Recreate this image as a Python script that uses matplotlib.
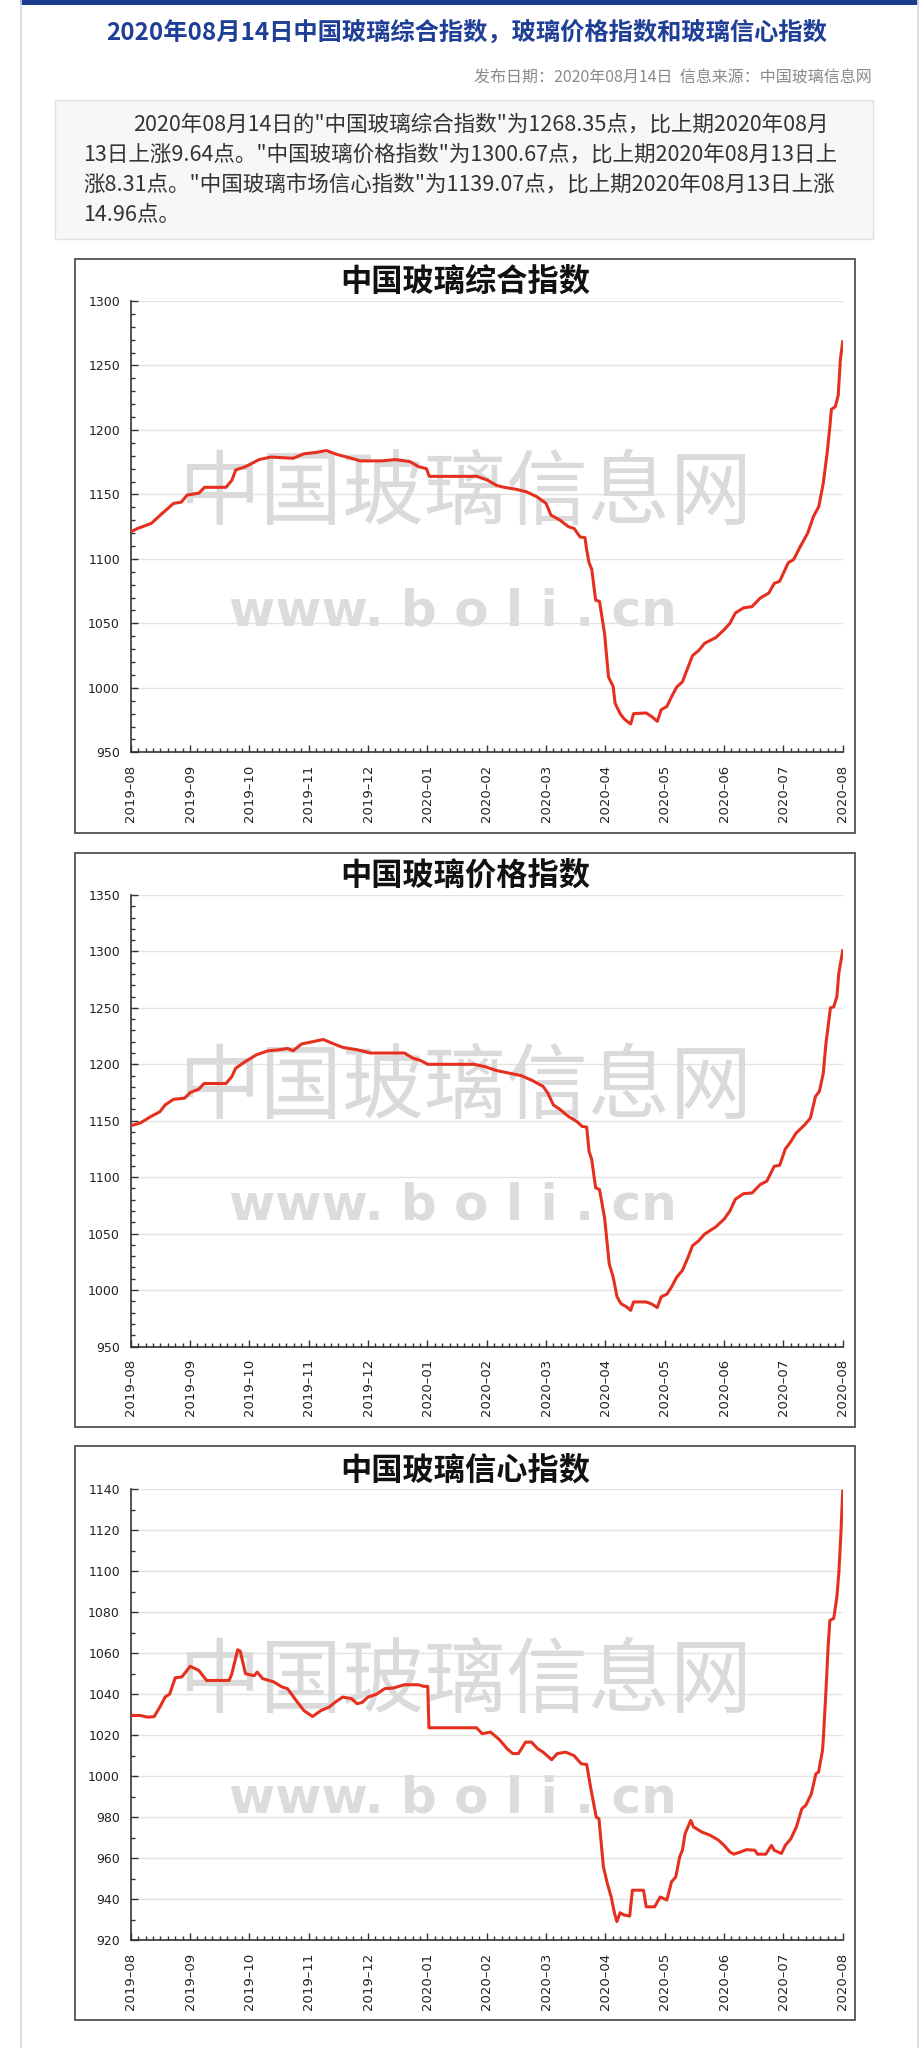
import numpy as np
import matplotlib.pyplot as plt
from matplotlib.patches import Rectangle
from matplotlib.ticker import FixedLocator, MultipleLocator

W, H = 920, 2048
CJK = ["Noto Sans CJK SC", "DejaVu Sans"]

# ── Page text ─────────────────────────────────────────────────────────────────
page_title = "2020年08月14日中国玻璃综合指数，玻璃价格指数和玻璃信心指数"
meta_line = "发布日期：2020年08月14日  信息来源：中国玻璃信息网"
summary_lines = [
    '2020年08月14日的"中国玻璃综合指数"为1268.35点，比上期2020年08月',
    '13日上涨9.64点。"中国玻璃价格指数"为1300.67点，比上期2020年08月13日上',
    '涨8.31点。"中国玻璃市场信心指数"为1139.07点，比上期2020年08月13日上涨',
    '14.96点。',
]

# ── Chart data (x = days after 2019-08-14) ───────────────────────────────────
month_labels = ["2019–08", "2019–09", "2019–10", "2019–11", "2019–12", "2020–01",
                "2020–02", "2020–03", "2020–04", "2020–05", "2020–06", "2020–07",
                "2020–08"]

chart_titles = ["中国玻璃综合指数", "中国玻璃价格指数", "中国玻璃信心指数"]

days_composite = [0, 3.4, 10.6, 16, 22, 26, 29, 35, 38, 49, 52, 54, 59, 66, 72, 83.5, 89, 95,
                  100.6, 106, 113.5, 118, 129, 136, 143.5, 148, 152, 153.5, 178, 183.5, 188,
                  192, 198, 203.5, 209, 213.5, 216, 220.7, 225, 228, 231, 233.5, 234.4, 235.6,
                  237, 239, 241, 243.6, 245.6, 248, 249, 251.6, 253.6, 255.6, 257, 258.5, 265,
                  268, 270.7, 272.7, 275.6, 278, 280.7, 283.6, 286.5, 288.8, 292, 295, 300.8,
                  305, 308, 310.8, 315, 319.4, 323.6, 328, 330.8, 333.6, 338, 340.8, 344, 348,
                  351, 353.7, 356, 358, 359.4, 360.2, 362.2, 363.7, 364.8, 366]
composite = [1121, 1123.5, 1127.5, 1135, 1143, 1144, 1149.5, 1151, 1155.5, 1155.5, 1161, 1169,
             1171.5, 1177, 1179, 1178, 1181.5, 1182.5, 1184, 1181, 1178, 1176, 1176, 1177,
             1175.5, 1171.5, 1170, 1164, 1164, 1161, 1157, 1155.5, 1154, 1152, 1148, 1143, 1134,
             1130, 1125, 1123.5, 1117, 1116.5, 1107, 1097, 1092, 1068, 1067, 1042, 1008.5, 1001,
             988, 980, 976, 973.5, 972, 980, 980.5, 977.5, 974, 983, 985.5, 993, 1000.7, 1004.6,
             1016, 1025, 1029, 1034.5, 1039, 1045, 1050, 1058, 1062, 1063, 1069.6, 1073.5, 1081,
             1082.6, 1097, 1099.5, 1109, 1120, 1133, 1140.5, 1158.6, 1182, 1202.7, 1216, 1218,
             1227, 1254.6, 1268.35]

days_price = [0, 4.9, 10.6, 15, 17.7, 22, 27.7, 30.6, 35, 37.7, 49, 52, 54, 59, 64.6, 70.6, 76,
              80.6, 83.5, 87.8, 93.5, 99, 103.5, 109, 116, 123.5, 140.7, 145, 149, 152.7, 176.4,
              182, 188, 195, 200.7, 206.4, 212, 214.4, 217.3, 220.7, 225, 229.3, 232, 234.4,
              235.6, 237, 239, 241, 243.6, 246, 248, 250, 252, 255, 257, 258.5, 265, 268, 270.7,
              272.7, 275.6, 278, 280.7, 283.6, 286.5, 288.8, 292, 295, 300.8, 305, 308, 310.8,
              315, 319.4, 323.6, 327, 330.8, 333.6, 336.5, 339.4, 342, 346.5, 349.4, 352, 354,
              356, 357.4, 358.5, 359.7, 361.4, 363, 364, 366]
price = [1145.6, 1148, 1154, 1158, 1164, 1169, 1170, 1175, 1178, 1183, 1183, 1189.2, 1196.6,
         1202.5, 1208.4, 1212, 1212.8, 1214, 1212, 1218, 1220, 1222, 1218.7, 1215, 1213, 1210,
         1210, 1205.5, 1203.4, 1200, 1200, 1198, 1194.5, 1192, 1190, 1185.7, 1180.4, 1174.5,
         1164, 1160, 1153.8, 1149.4, 1145, 1144.4, 1123, 1115.5, 1090.6, 1089, 1064, 1023,
         1011.5, 994, 988, 985, 982, 989.5, 989.5, 987.5, 984.5, 994, 996.3, 1002.7, 1011.5,
         1017.4, 1029, 1039.3, 1043.7, 1049.6, 1056, 1062.8, 1070, 1080.4, 1085.4, 1086, 1093.5,
         1096.5, 1109.7, 1110.5, 1125, 1131.7, 1139, 1146.5, 1152.4, 1171.5, 1176, 1192, 1218.7,
         1233.5, 1250, 1251, 1260, 1280.7, 1300.67]

days_confidence = [0, 4.9, 8.6, 12, 15, 17.7, 20, 22.9, 26.3, 30.6, 35, 39, 50.6, 52, 55, 56.3,
                   59, 63.5, 65, 67.8, 73.5, 77.8, 80.6, 85, 89, 93.5, 97.8, 102, 105, 109,
                   113.5, 116.4, 119, 122, 126.4, 130.6, 135, 140.7, 147.8, 150.7, 152.7, 153.3,
                   177.8, 180.7, 185, 189.3, 193.6, 196.4, 199.3, 203, 206, 209.3, 212, 216.4,
                   219.3, 223.6, 227.9, 231.6, 234.4, 236.4, 239.3, 240.7, 243, 245, 247, 248.7,
                   249.9, 251.6, 253.6, 256.5, 257.9, 263.6, 265, 269.3, 272.2, 275.6, 278, 280.2,
                   282.2, 283.6, 285, 287.9, 289.3, 293.6, 297.9, 302.2, 305, 308, 310, 313.6,
                   316.5, 320.8, 322.2, 326.5, 329.4, 330.8, 334.5, 336.5, 339.4, 342.2, 345, 347,
                   349.9, 352.2, 353.6, 355.6, 356, 357.4, 358.5, 359.4, 361.4, 363, 364, 365, 366]
confidence = [1029.6, 1029.6, 1028.8, 1029, 1033.7, 1038.6, 1040, 1048, 1048.4, 1053.6, 1051.6,
              1046.7, 1046.7, 1050, 1061.7, 1061, 1050, 1049, 1050.8, 1047.6, 1046, 1043.5,
              1042.7, 1037, 1032, 1029.1, 1032, 1033.7, 1036, 1038.6, 1037.8, 1035.3, 1036,
              1038.6, 1040, 1042.7, 1043, 1044.6, 1044.6, 1043.8, 1043.8, 1023.6, 1023.6, 1020.7,
              1021.5, 1018, 1013.3, 1011, 1011, 1016.6, 1016.6, 1013.3, 1011.7, 1008, 1011,
              1011.7, 1010, 1006, 1005.7, 994.6, 980, 979.2, 955.7, 947.6, 941, 933, 929, 933.3,
              932.2, 931.7, 944.3, 944.3, 936.2, 936.2, 941, 939.5, 948.4, 950.8, 960.6, 963.8,
              972, 978.4, 975.2, 972.7, 971.1, 968.7, 966.2, 963, 961.9, 963, 964.1, 963.8,
              961.9, 961.9, 966.2, 963.8, 962.2, 966.2, 969.5, 975.2, 984.1, 985.7, 991.4,
              1001.1, 1002, 1012.5, 1017.4, 1041.8, 1063, 1076, 1077, 1087.5, 1099, 1116.8,
              1139.07]

series = [(days_composite, composite), (days_price, price), (days_confidence, confidence)]
y_ranges = [(950, 1300, 50), (950, 1350, 50), (920, 1140, 20)]

# ── Layout in page pixels ─────────────────────────────────────────────────────
frames = [(259, 833), (853, 1427), (1446, 2020)]     # chart frame top/bottom
plot_tb = [(301, 752.3), (895, 1346.5), (1489.3, 1940)]
plot_l, plot_r = 130.7, 842.7

fig = plt.figure(figsize=(W / 100, H / 100), dpi=100)
bg = fig.add_axes([0, 0, 1, 1])
bg.set_xlim(0, W)
bg.set_ylim(H, 0)
bg.axis("off")

# page chrome
bg.add_patch(Rectangle((20, 0), 898, 4.5, color="#1d3c8f", lw=0))
bg.plot([21, 21], [0, H], color="#cdd8ea", lw=1.2)
bg.plot([918, 918], [0, H], color="#cdd8ea", lw=1.2)

bg.text(466.5, 34, page_title, fontsize=17.5, fontweight="bold", color="#1f3f96",
        family=CJK, ha="center", va="center")
bg.text(872, 78, meta_line, fontsize=11.5, color="#8a8a8a", family=CJK,
        ha="right", va="center")

bg.add_patch(Rectangle((55, 100), 818, 139, facecolor="#f7f7f7", edgecolor="#e2e2e2", lw=1))
for i, line in enumerate(summary_lines):
    bg.text(133 if i == 0 else 83, 125 + 30 * i, line, fontsize=15.5, color="#333333",
            family=CJK, ha="left", va="center")

# ── Charts ────────────────────────────────────────────────────────────────────
month_pos = np.arange(len(month_labels)) * 366 / 12
minor_pos = np.arange(97) * 366 / 96

for (ftop, fbot), (ptop, pbot), title, (x, y), (ylo, yhi, ystep) in zip(
        frames, plot_tb, chart_titles, series, y_ranges):
    bg.add_patch(Rectangle((75, ftop), 780, fbot - ftop, facecolor="white",
                           edgecolor="#5e5e5e", lw=1.4))
    bg.text(465, ptop - 19, title, fontsize=22.5, fontweight="bold", color="#111111",
            family=CJK, ha="center", va="center")

    ax = fig.add_axes([plot_l / W, 1 - pbot / H, (plot_r - plot_l) / W, (pbot - ptop) / H])
    ax.set_facecolor("none")
    ax.set_xlim(0, 366)
    ax.set_ylim(ylo, yhi)

    ax.text(0.469, 0.572, "中国玻璃信息网", transform=ax.transAxes, fontsize=59,
            color="#dadada", family=CJK, ha="center", va="center", zorder=1)
    ax.text(0.452, 0.313, "www. b o l i . cn", transform=ax.transAxes, fontsize=36,
            fontweight="bold", color="#dcdcdc", family="DejaVu Sans",
            ha="center", va="center", zorder=1)

    ax.plot(x, y, color="#e5301f", lw=2.2, solid_joinstyle="round", zorder=3)

    ax.set_yticks(np.arange(ylo, yhi + 1, ystep))
    ax.yaxis.set_minor_locator(MultipleLocator(10))
    ax.set_xticks(month_pos)
    ax.set_xticklabels(month_labels, rotation=90)
    ax.xaxis.set_minor_locator(FixedLocator(minor_pos))

    ax.set_axisbelow(True)
    ax.grid(axis="y", color="#e2e2e2", lw=1)
    for s in ("top", "right"):
        ax.spines[s].set_visible(False)
    for s in ("left", "bottom"):
        ax.spines[s].set_color("#333333")
        ax.spines[s].set_linewidth(1.2)

    ax.tick_params(axis="both", which="both", direction="in", color="#333333", width=1)
    ax.tick_params(axis="both", which="major", length=5)
    ax.tick_params(axis="both", which="minor", length=3)
    ax.tick_params(axis="y", which="major", pad=7.7, labelsize=9, labelcolor="#222222")
    ax.tick_params(axis="x", which="major", pad=9, labelsize=9.5, labelcolor="#222222")

fig.savefig("out.png", dpi=100, facecolor="white")
